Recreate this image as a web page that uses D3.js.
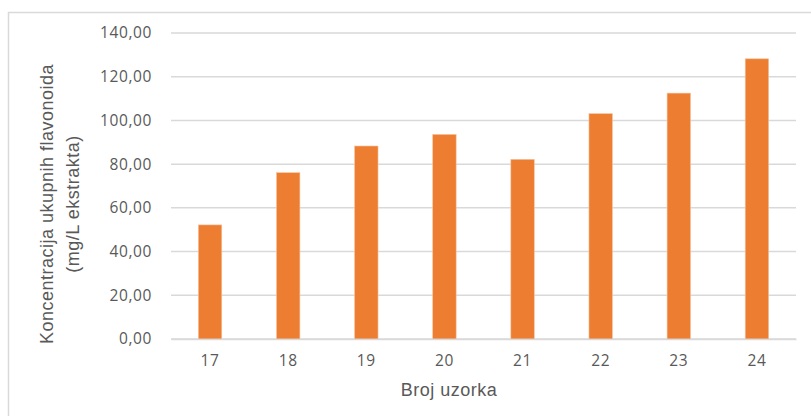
<!DOCTYPE html>
<html>
<head>
<meta charset="utf-8">
<script src="https://cdn.jsdelivr.net/npm/d3@7"></script>
<style>
  body { margin: 0; background: #fff; }
</style>
</head>
<body>
<div id="chart"></div>
<script>
// Data
const samples = ['17', '18', '19', '20', '21', '22', '23', '24'];
const flavonoids = [52.2, 76.1, 88.3, 93.6, 82.2, 103.1, 112.5, 128.2];
const yTicks = [0, 20, 40, 60, 80, 100, 120, 140];

const width = 811, height = 416;
const plot = { left: 171, right: 796, top: 33, bottom: 339 };

const svg = d3.select('#chart')
    .append('svg')
    .attr('width', width)
    .attr('height', height);

// Chart border (Excel frame)
svg.append('path')
    .attr('d', `M${width + 2},12.5 H8.5 V${height + 2}`)
    .attr('fill', 'none')
    .attr('stroke', '#d9d9d9')
    .attr('stroke-width', 1.5);

const x = d3.scaleBand()
    .domain(samples)
    .range([plot.left, plot.right])
    .paddingInner(0.7)
    .paddingOuter(0.35);

const y = d3.scaleLinear()
    .domain([0, 140])
    .range([plot.bottom, plot.top]);

// Gridlines
svg.append('g')
    .selectAll('line')
    .data(yTicks)
    .join('line')
        .attr('x1', plot.left)
        .attr('x2', plot.right)
        .attr('y1', d => y(d))
        .attr('y2', d => y(d))
        .attr('stroke', '#d9d9d9')
        .attr('stroke-width', 1.5);

// Y axis labels
const yAxis = d3.axisLeft(y)
    .tickValues(yTicks)
    .tickSize(0)
    .tickPadding(19)
    .tickFormat(d => d3.format('.2f')(d).replace('.', ','));
svg.append('g')
    .attr('transform', `translate(${plot.left}, 0)`)
    .call(yAxis)
    .call(g => g.select('.domain').remove())
    .selectAll('text')
        .attr('fill', '#595959')
        .attr('font-family', 'Open Sans, sans-serif')
        .attr('font-size', 15.5)
        .attr('letter-spacing', 0.6);

// Bars
svg.append('g')
    .selectAll('rect')
    .data(samples.map((s, i) => ({ s, v: flavonoids[i] })))
    .join('rect')
        .attr('x', d => x(d.s))
        .attr('width', x.bandwidth())
        .attr('y', d => y(d.v))
        .attr('height', d => y(0) - y(d.v))
        .attr('fill', '#ed7d31')
        .attr('stroke', '#f6c4a0')
        .attr('stroke-width', 0.6);

// X axis
const xAxis = d3.axisBottom(x).tickSize(0).tickPadding(16);
svg.append('g')
    .attr('transform', `translate(0, ${plot.bottom})`)
    .call(xAxis)
    .call(g => g.select('.domain')
        .attr('stroke', '#d9d9d9')
        .attr('stroke-width', 1.5))
    .selectAll('text')
        .attr('fill', '#595959')
        .attr('font-family', 'Open Sans, sans-serif')
        .attr('font-size', 15.5)
        .attr('letter-spacing', 0.6);

// Axis titles
svg.append('text')
    .text('Broj uzorka')
    .attr('x', 449)
    .attr('y', 396)
    .attr('text-anchor', 'middle')
    .attr('fill', '#595959')
    .attr('font-family', 'Liberation Sans, Arial, sans-serif')
    .attr('font-size', 18)
    .attr('letter-spacing', 0.5);

const yTitle = svg.append('text')
    .attr('transform', 'translate(0, 204) rotate(-90)')
    .attr('text-anchor', 'middle')
    .attr('fill', '#595959')
    .attr('font-family', 'Liberation Sans, Arial, sans-serif')
    .attr('font-size', 18)
    .attr('letter-spacing', 0.5);
yTitle.append('tspan')
    .attr('x', 0)
    .attr('y', 53)
    .text('Koncentracija ukupnih flavonoida');
yTitle.append('tspan')
    .attr('x', 0)
    .attr('y', 79)
    .text('(mg/L ekstrakta)');
</script>
</body>
</html>
